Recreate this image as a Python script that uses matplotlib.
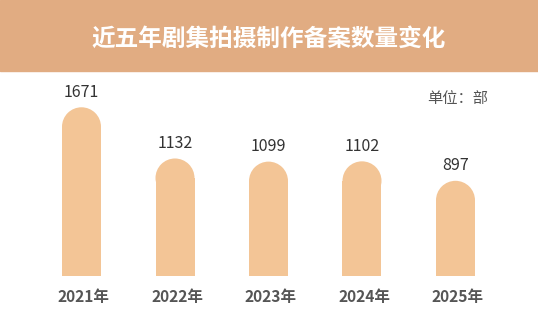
import matplotlib
matplotlib.use("Agg")
import matplotlib.pyplot as plt
from matplotlib.patches import Rectangle, Ellipse

plt.rcParams['font.family'] = ['Noto Sans CJK SC', 'DejaVu Sans']

title = "近五年剧集拍摄制作备案数量变化"
unit_label = "单位：部"
years = ["2021年", "2022年", "2023年", "2024年", "2025年"]
values = [1671, 1132, 1099, 1102, 897]

W, H = 538, 326
fig = plt.figure(figsize=(W / 100, H / 100), dpi=100)

# header band
header_h = 71
fig.patches.append(Rectangle((0, 1 - header_h / H), 1, header_h / H,
                             transform=fig.transFigure, color="#E1AC82", zorder=0))
fig.text(0.5, 1 - 39 / H, title, ha="center", va="center", color="white",
         fontsize=17, fontweight="bold")

# axes in pixel-consistent layout
ax_bottom_px = 276
ax_top_px = 71
px_per_unit_x = 93.5
first_center = 81.5
px_per_unit_y = 0.095
y0 = -105
ax = fig.add_axes([0, (H - ax_bottom_px) / H, 1, (ax_bottom_px - ax_top_px) / H])
ax.set_xlim(-first_center / px_per_unit_x, (W - first_center) / px_per_unit_x)
ax.set_ylim(y0, y0 + (ax_bottom_px - ax_top_px) / px_per_unit_y)
ax.axis("off")

bar_px = 39
bw = bar_px / px_per_unit_x
r_y = (bar_px / 2) / px_per_unit_y
color = "#F3C596"
xs = list(range(len(values)))
for x, v in zip(xs, values):
    ax.bar(x, v - r_y - y0, bottom=y0, width=bw, color=color, linewidth=0)
    ax.add_patch(Ellipse((x, v - r_y), bw, 2 * r_y, color=color, linewidth=0))
    ax.annotate(str(v), (x, v), xytext=(0, 11), textcoords="offset points",
                ha="center", va="center", fontsize=11.5, color="#333333")

for x, lab in zip(xs, years):
    fig.text((first_center + 2 + x * px_per_unit_x) / W, 1 - 297 / H, lab,
             ha="center", va="center", fontsize=11.2, fontweight="bold", color="#555555")

fig.text(458 / W, 1 - 98 / H, unit_label, ha="center", va="center",
         fontsize=11, color="#555555")

fig.savefig("out.png", dpi=100)
